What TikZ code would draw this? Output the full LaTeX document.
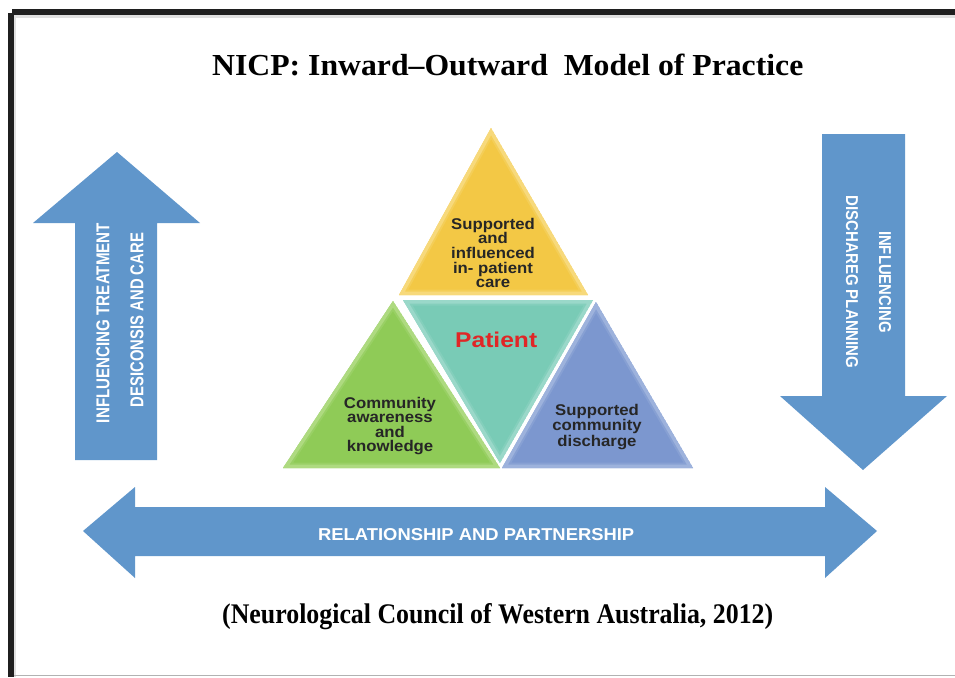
\documentclass[tikz,border=0pt]{standalone}
\usepackage{fontspec}
\usepackage{graphicx}
\setmainfont{Liberation Serif}
\newfontfamily\arialfont{Liberation Sans}
\newfontfamily\arialwide[FakeStretch=1.08]{Liberation Sans}
\definecolor{arrowblue}{HTML}{6096CB}
\definecolor{yelC}{HTML}{F3C845}
\definecolor{yelE}{HTML}{F9E08E}
\definecolor{grnC}{HTML}{8FCB57}
\definecolor{grnE}{HTML}{B9E08F}
\definecolor{tealC}{HTML}{79CBB6}
\definecolor{tealE}{HTML}{A6DDD0}
\definecolor{bluC}{HTML}{7C97CF}
\definecolor{bluE}{HTML}{A9BCE2}
\definecolor{patred}{HTML}{E02626}
\newcommand\bevtri[5]{%
  \begin{scope}
    \clip #1 -- #2 -- #3 -- cycle;
    \fill[#4] #1 -- #2 -- #3 -- cycle;
    \draw[#5, line width=7pt, line join=miter] #1 -- #2 -- #3 -- cycle;
    \draw[#5!50!#4, line width=11pt, opacity=0.5, line join=miter] #1 -- #2 -- #3 -- cycle;
  \end{scope}}
\tikzset{
  tritext/.style={font=\arialwide\bfseries\fontsize{15.5}{14.6}\selectfont, align=center, text=black!85, inner sep=0pt},
  arrtext/.style={text=white, inner sep=0pt},
  arrowshape/.style={fill=arrowblue}
}
\begin{document}
\begin{tikzpicture}[x=1pt,y=-1pt]
\useasboundingbox (0,0) rectangle (955,677);
% frame
\fill[black!12] (14,15) rectangle (955,18);
\fill[black!88] (12,9) rectangle (955,15);
\fill[black!88] (8,13) rectangle (14,677);
\fill[black!12] (14,18) rectangle (16,677);
\draw[black!30, line width=1.2pt] (14,675.5) -- (955,675.5);

% title
\node[anchor=base west, inner sep=0pt] (title) at (212,75)
  {\resizebox{591pt}{21.5pt}{\bfseries NICP: Inward--Outward\ \ Model of Practice}};

% left up arrow
\path[arrowshape] (75,460) -- (75,223) -- (33,223) -- (117,152) -- (200,223) -- (157,223) -- (157,460) -- cycle;
\node[arrtext, rotate=90] (lt1) at (103,323)
  {\resizebox{200pt}{13pt}{\arialfont\bfseries INFLUENCING TREATMENT}};
\node[arrtext, rotate=90] (lt2) at (137,320)
  {\resizebox{174pt}{13pt}{\arialfont\bfseries DESICONSIS AND CARE}};

% right down arrow
\path[arrowshape] (822,134) -- (905,134) -- (905,396) -- (947,396) -- (863,470) -- (780,396) -- (822,396) -- cycle;
\node[arrtext, rotate=-90] (rt1) at (885,282)
  {\resizebox{102pt}{12pt}{\arialfont\bfseries INFLUENCING}};
\node[arrtext, rotate=-90] (rt2) at (852,282)
  {\resizebox{173pt}{12pt}{\arialfont\bfseries DISCHAREG PLANNING}};

% horizontal double arrow
\path[arrowshape] (83,531) -- (135,487) -- (135,507) -- (825,507) -- (825,487) -- (877,531)
  -- (825,578) -- (825,556) -- (135,556) -- (135,578) -- cycle;
\node[arrtext, anchor=base west] (rel) at (318,540)
  {\resizebox{316pt}{12pt}{\arialfont\bfseries RELATIONSHIP AND PARTNERSHIP}};

% triangles
\bevtri{(491,128)}{(588,295)}{(399,295)}{yelC}{yelE}
\bevtri{(393,301)}{(500,468)}{(283,468)}{grnC}{grnE}
\bevtri{(596,302)}{(693,468)}{(502,468)}{bluC}{bluE}
\bevtri{(403,300)}{(593,300)}{(500,463)}{tealC}{tealE}

\node[tritext] (top) at (493,253) {Supported\\and\\influenced\\in- patient\\care};
\node[tritext] (left) at (390,426) {Community\\awareness\\and\\knowledge};
\node[tritext, font=\arialwide\bfseries\fontsize{15.5}{13.8}\selectfont] (right) at (597,427) {Supported\\community\\discharge};
\node[anchor=base west, inner sep=0pt, text=patred] (patient) at (455,347)
  {\resizebox{82pt}{15.5pt}{\arialfont\bfseries Patient}};

% citation
\node[anchor=base west, inner sep=0pt] (cite) at (222,623)
  {\resizebox{551pt}{20pt}{\bfseries (Neurological Council of Western Australia, 2012)}};
\end{tikzpicture}
\end{document}
